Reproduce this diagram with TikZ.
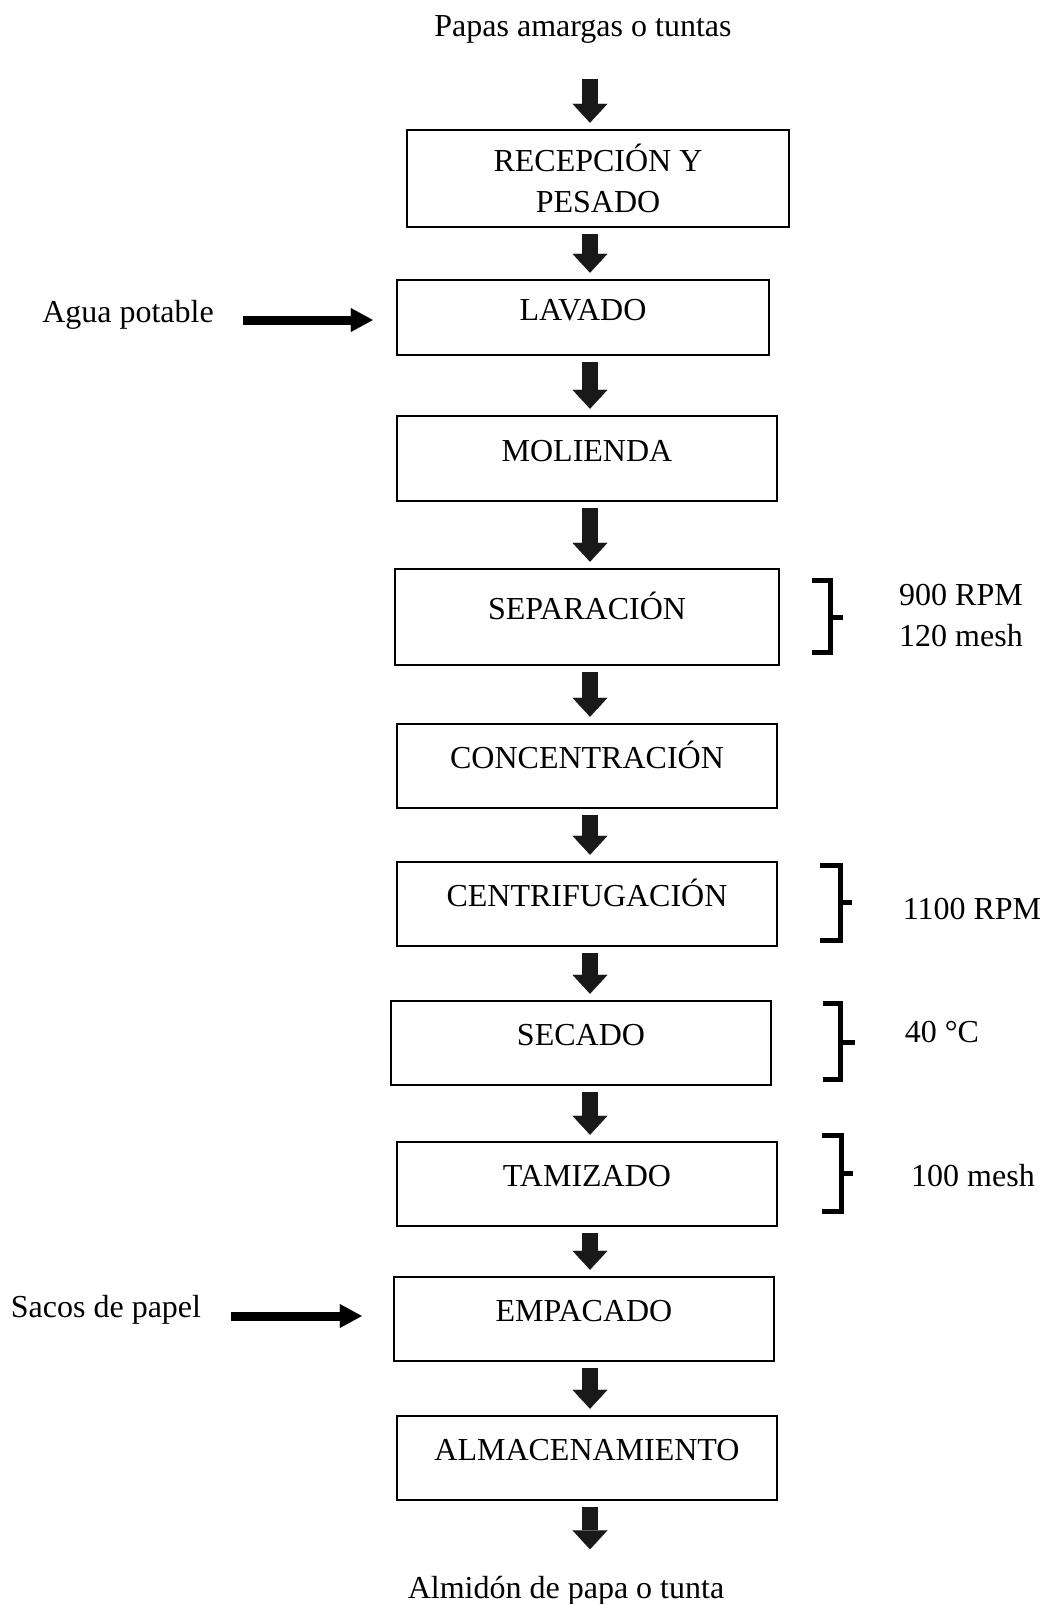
\documentclass[tikz,border=0pt]{standalone}
\usepackage{fontspec}
\setmainfont{Liberation Serif}
\usetikzlibrary{arrows.meta,positioning,calc}

\begin{document}
\begin{tikzpicture}[
  x=1pt, y=-1pt,
  font=\fontsize{32}{41}\selectfont,
  caja/.style={draw, line width=2.5pt, minimum width=380pt, minimum height=84pt, inner sep=0},
  paso/.style={caja, text height=22pt, text depth=17pt},
  flujo/.style={draw=black!90, line width=16pt, -{Triangle[width=35pt,length=19pt,line width=0.1pt]}, shorten <=6pt, shorten >=6pt},
  entrada/.style={line width=9pt, -{Triangle[width=24pt,length=22pt,line width=0.1pt]}},
  llave/.style={line width=5pt},
  etiqueta/.style={inner sep=0}
]
\useasboundingbox (0,0) rectangle (1046,1604);

% entrada y salida
\node[etiqueta] (papas) at (583,29.5) {Papas amargas o tuntas};
\node[etiqueta] (almidon) at (566,1591) {Almidón de papa o tunta};

% etapas del proceso
\node[caja, minimum width=382pt, minimum height=97pt, align=center] (recep) at (598,178.5) {RECEPCIÓN Y\\PESADO};
\node[paso, minimum width=372pt, minimum height=75pt] (lavado) at (583,317.5) {LAVADO};
\node[paso, minimum height=85pt] (molienda) at (587,458.5) {MOLIENDA};
\node[paso, minimum width=384pt, minimum height=96pt] (separacion) at (587,617) {SEPARACIÓN};
\node[paso] (concentracion) at (587,766) {CONCENTRACIÓN};
\node[paso] (centrifugacion) at (587,904) {CENTRIFUGACIÓN};
\node[paso] (secado) at (581,1043) {SECADO};
\node[paso] (tamizado) at (587,1184) {TAMIZADO};
\node[paso] (empacado) at (584,1319) {EMPACADO};
\node[paso] (almacen) at (587,1458) {ALMACENAMIENTO};

% flechas
\coordinate (eje) at (590,0);
\draw[flujo, shorten <=35pt] (papas.south -| eje) -- (recep.north -| eje);
\draw[flujo] (recep.south -| eje) -- (lavado.north -| eje);
\draw[flujo] (lavado.south -| eje) -- (molienda.north -| eje);
\draw[flujo] (molienda.south -| eje) -- (separacion.north -| eje);
\draw[flujo] (separacion.south -| eje) -- (concentracion.north -| eje);
\draw[flujo] (concentracion.south -| eje) -- (centrifugacion.north -| eje);
\draw[flujo] (centrifugacion.south -| eje) -- (secado.north -| eje);
\draw[flujo] (secado.south -| eje) -- (tamizado.north -| eje);
\draw[flujo] (tamizado.south -| eje) -- (empacado.north -| eje);
\draw[flujo] (empacado.south -| eje) -- (almacen.north -| eje);
\draw[flujo, shorten >=27pt] (almacen.south -| eje) -- (almidon.north -| eje);

% insumos
\node[etiqueta] (agua) at (128,315) {Agua potable};
\node[etiqueta] (sacos) at (106,1310) {Sacos de papel};
\draw[entrada, shorten <=29pt, shorten >=23pt] ([yshift=-5pt]agua.east) -- ([yshift=-5pt]agua.east -| lavado.west);
\draw[entrada, shorten <=30pt, shorten >=31pt] ([yshift=-6pt]sacos.east) -- ([yshift=-6pt]sacos.east -| empacado.west);

% condiciones
\draw[llave] (812,580) -- (830,580) -- (830,652) -- (812,652) (830,617) -- (843,617);
\draw[llave] (820,865) -- (840,865) -- (840,940) -- (820,940) (840,902) -- (852,902);
\draw[llave] (823,1003) -- (840,1003) -- (840,1079) -- (823,1079) (840,1042) -- (855,1042);
\draw[llave] (822,1135) -- (841,1135) -- (841,1211) -- (822,1211) (841,1173) -- (853,1173);
\node[etiqueta, align=left] (condsep) at (961,616) {900 RPM\\120 mesh};
\node[etiqueta] (condcen) at (972,909) {1100 RPM};
\node[etiqueta] (condsec) at (942,1032) {40 °C};
\node[etiqueta] (condtam) at (973,1176) {100 mesh};
\end{tikzpicture}
\end{document}
